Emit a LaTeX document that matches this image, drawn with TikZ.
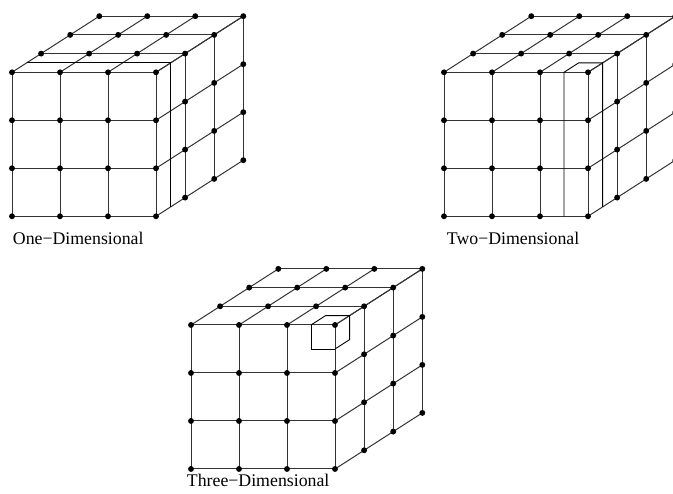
\documentclass[tikz,border=0pt]{standalone}
\usepackage{fontspec}
\setmainfont{Liberation Serif}
\usetikzlibrary{calc}
\newcommand\mycube[3]{%
  \foreach \i in {0,...,3}{\foreach \j in {0,...,3}{\foreach \k in {0,...,3}{%
    \coordinate (#1-\i-\j-\k) at ({#2+48*\i+29.1*\k},{#3-48*\j+18.7*\k});}}}
  \foreach \n in {0,...,3}{%
    \draw[gridline] (#1-\n-0-0) -- (#1-\n-3-0);
    \draw[gridline] (#1-0-\n-0) -- (#1-3-\n-0);
    \draw[gridline] (#1-\n-0-0) -- (#1-\n-0-3);
    \draw[gridline] (#1-3-\n-0) -- (#1-3-\n-3);
  }
  \foreach \k in {1,2,3}{%
    \draw[gridline] (#1-0-0-\k) -- (#1-3-0-\k);
    \draw[gridline] (#1-3-0-\k) -- (#1-3-3-\k);
  }
}
\newcommand\mydots[1]{%
  \foreach \i in {0,...,3}{\foreach \j in {0,...,3}{%
    \node[dot] (#1-d-\i-\j-0) at (#1-\i-\j-0) {};}}
  \foreach \i in {0,...,3}{\foreach \k in {1,2,3}{%
    \node[dot] (#1-d-\i-0-\k) at (#1-\i-0-\k) {};}}
  \foreach \j in {1,2,3}{\foreach \k in {1,2,3}{%
    \node[dot] (#1-d-3-\j-\k) at (#1-3-\j-\k) {};}}
}
\begin{document}
\begin{tikzpicture}[x=1pt,y=1pt,
  gridline/.style={line width=1pt,black!80},
  cutline/.style={line width=0.9pt,black},
  dot/.style={circle,fill=black,inner sep=0pt,minimum size=5.9pt},
  lbl/.style={font=\fontsize{17.8}{20}\selectfont,anchor=base west,inner sep=0pt}]
\useasboundingbox (0,0) rectangle (673,494);
\clip (0,0) rectangle (673,494);

% cube 1: one-dimensional
\mycube{A}{12}{421.7}
\coordinate (A-s1) at ($(A-0-0-0)!0.5!(A-0-0-1)$);
\coordinate (A-s2) at ($(A-3-0-0)!0.5!(A-3-0-1)$);
\coordinate (A-s3) at ($(A-3-3-0)!0.5!(A-3-3-1)$);
\draw[cutline] (A-s1) -- (A-s2) -- (A-s3);
\mydots{A}

% cube 2: two-dimensional
\mycube{B}{444}{421.7}
\coordinate (B-p) at ($(B-2-0-0)!0.5!(B-3-0-0)$);
\coordinate (B-q) at ($(B-2-3-0)!0.5!(B-3-3-0)$);
\coordinate (B-r) at ($(B-2-0-0)!0.5!(B-3-0-1)$);
\coordinate (B-s) at ($(B-3-0-0)!0.5!(B-3-0-1)$);
\coordinate (B-t) at ($(B-3-3-0)!0.5!(B-3-3-1)$);
\draw[cutline] (B-q) -- (B-p) -- (B-r) -- (B-s) -- (B-t);
\mydots{B}

% cube 3: three-dimensional
\mycube{C}{191}{169}
\coordinate (C-a) at ($(C-2-0-0)!0.5!(C-3-0-0)$);
\coordinate (C-b) at ($(C-2-0-0)!0.5!(C-3-1-0)$);
\coordinate (C-c) at ($(C-3-0-0)!0.5!(C-3-1-0)$);
\coordinate (C-d) at ($(C-2-0-0)!0.5!(C-3-0-1)$);
\coordinate (C-e) at ($(C-3-0-0)!0.5!(C-3-0-1)$);
\coordinate (C-f) at ($(C-3-0-0)!0.5!(C-3-1-1)$);
\draw[cutline] (C-a) -- (C-b) -- (C-c);
\draw[cutline] (C-a) -- (C-d) -- (C-e) -- (C-f) -- (C-c);
\mydots{C}

\node[lbl] (l1) at (12.7,249) {One−Dimensional};
\node[lbl] (l2) at (446.7,249) {Two−Dimensional};
\node[lbl] (l3) at (186.7,7) {Three−Dimensional};
\end{tikzpicture}
\end{document}
